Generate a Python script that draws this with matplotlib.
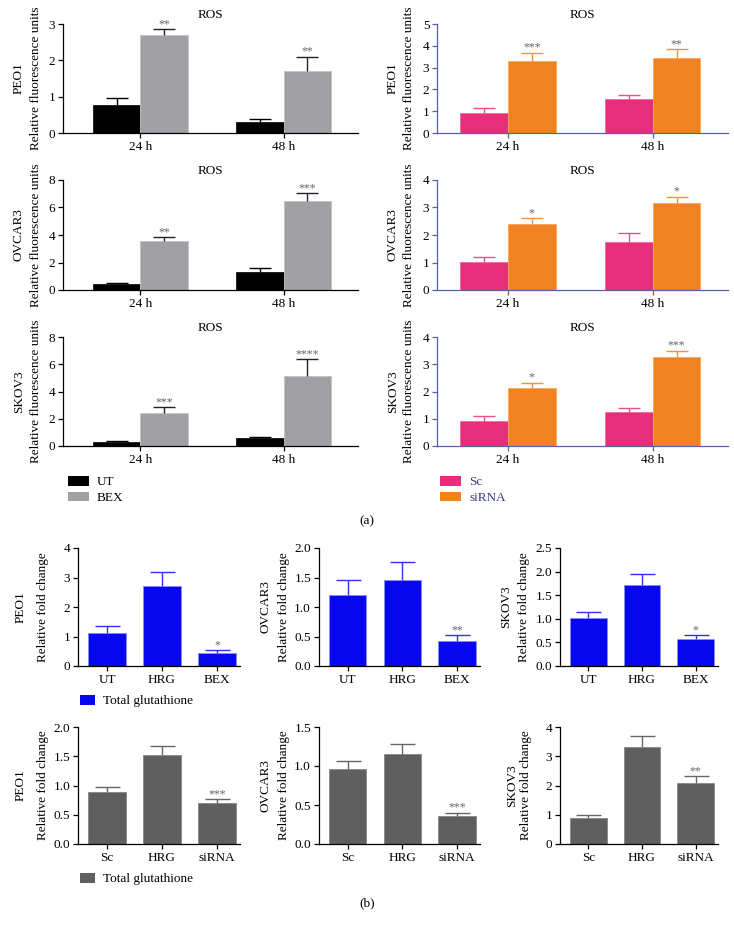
import matplotlib
matplotlib.use('Agg')
import matplotlib.pyplot as plt
from matplotlib.patches import Patch
import numpy as np

plt.rcParams['font.family'] = ['Liberation Serif', 'DejaVu Serif']
plt.rcParams['font.size'] = 9.5

# ---------------- data ----------------
cells = ['PEO1', 'OVCAR3', 'SKOV3']
time_labels = ['24 h', '48 h']

ut_mean = [[0.76, 0.31], [0.41, 1.28], [0.27, 0.56]]
ut_sem = [[0.19, 0.08], [0.12, 0.30], [0.07, 0.07]]
bex_mean = [[2.70, 1.71], [3.59, 6.47], [2.39, 5.17]]
bex_sem = [[0.16, 0.39], [0.24, 0.56], [0.46, 1.22]]
bex_stars = [['**', '**'], ['**', '***'], ['***', '****']]

sc_mean = [[0.94, 1.58], [1.02, 1.76], [0.90, 1.23]]
sc_sem = [[0.20, 0.16], [0.17, 0.31], [0.21, 0.15]]
si_mean = [[3.29, 3.42], [2.41, 3.18], [2.12, 3.28]]
si_sem = [[0.39, 0.43], [0.20, 0.21], [0.20, 0.22]]
si_stars = [['***', '**'], ['*', '*'], ['*', '***']]

ros_left_ymax = [3, 8, 8]
ros_left_ystep = [1, 2, 2]
ros_right_ymax = [5, 4, 4]
ros_right_ystep = [1, 1, 1]

gsh_bex_groups = ['UT', 'HRG', 'BEX']
gsh_bex_mean = [[1.13, 2.70, 0.43], [1.20, 1.45, 0.43], [1.01, 1.72, 0.57]]
gsh_bex_sem = [[0.22, 0.49, 0.11], [0.25, 0.31, 0.09], [0.13, 0.23, 0.08]]
gsh_bex_stars = ['*', '**', '*']
gsh_bex_ymax = [4, 2.0, 2.5]
gsh_bex_ystep = [1, 0.5, 0.5]

gsh_si_groups = ['Sc', 'HRG', 'siRNA']
gsh_si_mean = [[0.89, 1.52, 0.70], [0.96, 1.15, 0.36], [0.89, 3.33, 2.09]]
gsh_si_sem = [[0.09, 0.16, 0.07], [0.11, 0.13, 0.04], [0.09, 0.36, 0.22]]
gsh_si_stars = ['***', '***', '**']
gsh_si_ymax = [2.0, 1.5, 4]
gsh_si_ystep = [0.5, 0.5, 1]

# ---------------- layout ----------------
W, H = 734, 932
fig = plt.figure(figsize=(W / 100, H / 100), dpi=100)
fig.patch.set_facecolor('white')


def add_ax(l, r, t, b):
    return fig.add_axes([l / W, 1 - b / H, (r - l) / W, (b - t) / H])


def fmt_tick(v, step):
    if step < 1:
        return f'{v:.1f}'
    return f'{int(round(v))}'


def style_ax(ax, spine_color, width_px, rel_label, rel_off, cell, cell_off,
             ymax, ystep):
    for s in ['top', 'right']:
        ax.spines[s].set_visible(False)
    for s in ['left', 'bottom']:
        ax.spines[s].set_color(spine_color)
        ax.spines[s].set_linewidth(0.9)
    ax.tick_params(axis='both', colors=spine_color, labelcolor='black',
                   length=3.5, width=0.9, labelsize=9.5, pad=2)
    ax.set_ylim(0, ymax)
    ticks = np.arange(0, ymax + ystep / 2, ystep)
    ax.set_yticks(ticks, [fmt_tick(v, ystep) for v in ticks])
    ax.set_ylabel(rel_label, fontsize=9.5)
    ax.yaxis.label.set_va('center')
    ax.yaxis.set_label_coords(rel_off / width_px, 0.5)
    ax.text(cell_off / width_px, 0.5, cell, transform=ax.transAxes,
            rotation=90, ha='center', va='center', rotation_mode='anchor',
            fontsize=9.5)


def up_err(ax, x, m, e, color, cap):
    n = len(m)
    _, caps, _ = ax.errorbar(x, m, yerr=[np.zeros(n), e], fmt='none',
                             ecolor=color, elinewidth=1, capsize=cap, capthick=1)
    caps[0].set_visible(False)


def star(ax, x, y, s):
    ax.annotate(s, (x, y), xytext=(0, 1.5), textcoords='offset points',
                ha='center', va='baseline', fontsize=8.5, color='#666666')


ros_tops = [24, 180, 337]
ros_bots = [133, 290, 446]
left_x = (63, 358)
right_x = (437, 728)
blue_spine = '#5a5ea8'
bw = 0.33

for i, cell in enumerate(cells):
    # left: UT / BEX
    ax = add_ax(left_x[0], left_x[1], ros_tops[i], ros_bots[i])
    x = np.arange(2)
    ax.bar(x - bw / 2, ut_mean[i], bw, color='#000000', edgecolor='#000000', lw=0.5)
    ax.bar(x + bw / 2, bex_mean[i], bw, color='#a1a1a5', edgecolor='#c4c4c6', lw=0.6)
    up_err(ax, x - bw / 2, ut_mean[i], ut_sem[i], '#000000', 8)
    up_err(ax, x + bw / 2, bex_mean[i], bex_sem[i], '#222222', 8)
    for j in range(2):
        star(ax, x[j] + bw / 2, bex_mean[i][j] + bex_sem[i][j], bex_stars[i][j])
    ax.set_xlim(-0.54, 1.52)
    ax.set_xticks(x, time_labels)
    style_ax(ax, 'black', left_x[1] - left_x[0], 'Relative fluorescence units', -27,
             cell, -44, ros_left_ymax[i], ros_left_ystep[i])
    ax.set_title('ROS', fontsize=9.5, pad=4)

    # right: Sc / siRNA
    ax = add_ax(right_x[0], right_x[1], ros_tops[i], ros_bots[i])
    ax.bar(x - bw / 2, sc_mean[i], bw, color='#e62e7b', edgecolor='#ee6a9e', lw=0.6)
    ax.bar(x + bw / 2, si_mean[i], bw, color='#f28221', edgecolor='#f6a860', lw=0.6)
    up_err(ax, x - bw / 2, sc_mean[i], sc_sem[i], '#e7508a', 8)
    up_err(ax, x + bw / 2, si_mean[i], si_sem[i], '#f09440', 8)
    for j in range(2):
        star(ax, x[j] + bw / 2, si_mean[i][j] + si_sem[i][j], si_stars[i][j])
    ax.set_xlim(-0.49, 1.52)
    ax.set_xticks(x, time_labels)
    style_ax(ax, blue_spine, right_x[1] - right_x[0], 'Relative fluorescence units', -28,
             cell, -44, ros_right_ymax[i], ros_right_ystep[i])
    ax.set_title('ROS', fontsize=9.5, pad=4)

# legends (a)
leg_kw = dict(loc='upper left', frameon=False, handlelength=1.6, handleheight=0.75,
              handletextpad=0.6, labelspacing=0.25, borderaxespad=0, borderpad=0,
              fontsize=9.5)
fig.legend(handles=[Patch(facecolor='#000000'), Patch(facecolor='#a1a1a5')],
           labels=['UT', 'BEX'], bbox_to_anchor=(68 / W, 1 - 476 / H), **leg_kw)
fig.legend(handles=[Patch(facecolor='#e62e7b'), Patch(facecolor='#f28221')],
           labels=['Sc', 'siRNA'], bbox_to_anchor=(440 / W, 1 - 476 / H),
           labelcolor='#3a3a8c', **leg_kw)
fig.text(367 / W, 1 - 521 / H, '(a)', ha='center', va='center', fontsize=9.5)

# ---------------- (b) ----------------
cols_x = [(78, 240), (318.6, 480), (560, 718)]
bex_cell_off = [-57, -53, -54]
si_cell_off = [-57, -53, -48]
si_rel_off = [-35, -35, -34]
gw = 0.68


def gsh_row(top, bot, groups, means, sems, stars, ymaxs, ysteps, color, edge, ecolor,
            cell_offs, rel_offs):
    for k, cell in enumerate(cells):
        l, r = cols_x[k]
        ax = add_ax(l, r, top, bot)
        x = np.arange(3)
        ax.bar(x, means[k], gw, color=color, edgecolor=edge, lw=0.7)
        up_err(ax, x, means[k], sems[k], ecolor, 9)
        star(ax, x[2], means[k][2] + sems[k][2], stars[k])
        ax.set_xlim(-0.53, 2.42)
        ax.set_xticks(x, groups)
        style_ax(ax, 'black', r - l, 'Relative fold change', rel_offs[k], cell,
                 cell_offs[k], ymaxs[k], ysteps[k])


gsh_row(548, 666, gsh_bex_groups, gsh_bex_mean, gsh_bex_sem, gsh_bex_stars,
        gsh_bex_ymax, gsh_bex_ystep, '#0606f0', '#8a8aff', '#3030f2', bex_cell_off,
        [-35, -35, -36])
gsh_row(727, 844, gsh_si_groups, gsh_si_mean, gsh_si_sem, gsh_si_stars,
        gsh_si_ymax, gsh_si_ystep, '#5f5f5f', '#8c8c8c', '#666666', si_cell_off,
        si_rel_off)

leg_kw2 = dict(leg_kw)
leg_kw2['handlelength'] = 1.15
fig.legend(handles=[Patch(facecolor='#0606f0')], labels=['Total glutathione'],
           bbox_to_anchor=(80 / W, 1 - 695 / H), **leg_kw2)
fig.legend(handles=[Patch(facecolor='#5f5f5f')], labels=['Total glutathione'],
           bbox_to_anchor=(80 / W, 1 - 873 / H), **leg_kw2)
fig.text(367 / W, 1 - 903 / H, '(b)', ha='center', va='center', fontsize=9.5)

fig.savefig('out.png', dpi=100, facecolor='white')
